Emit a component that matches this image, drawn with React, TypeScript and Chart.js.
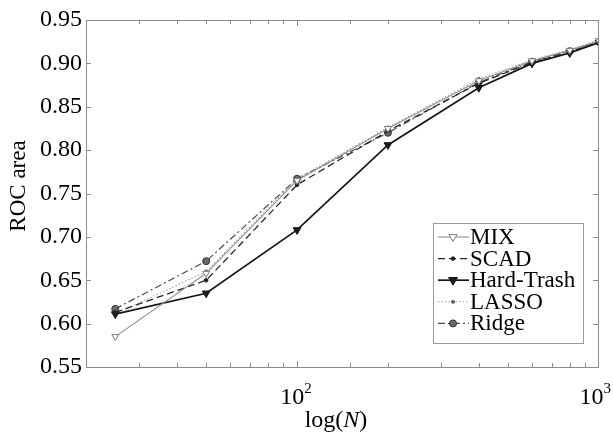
import React, { useEffect, useRef } from 'react';
import { Chart, registerables } from 'chart.js';

Chart.register(...registerables);

const FONT = "'Liberation Serif', 'Times New Roman', Times, serif";

// ---- data ----
const sampleSizes = [25, 50, 100, 200, 400, 600, 800, 1000];
const mixArea = [0.585, 0.658, 0.765, 0.825, 0.88, 0.903, 0.915, 0.926];
const scadArea = [0.613, 0.65, 0.76, 0.822, 0.877, 0.901, 0.913, 0.925];
const hardTrashArea = [0.611, 0.635, 0.708, 0.806, 0.872, 0.9, 0.912, 0.924];
const lassoArea = [0.611, 0.66, 0.767, 0.826, 0.882, 0.904, 0.916, 0.927];
const ridgeArea = [0.617, 0.672, 0.767, 0.82, 0.878, 0.902, 0.914, 0.925];
const seriesNames = ['MIX', 'SCAD', 'Hard-Trash', 'LASSO', 'Ridge'];
const yTickLabels = ['0.55', '0.60', '0.65', '0.70', '0.75', '0.80', '0.85', '0.90', '0.95'];
const xMin = 20;
const xMax = 1000;
const yMin = 0.55;
const yMax = 0.95;
const xTickBase = '10';
const xTickExponents: Record<number, string> = { 100: '2', 1000: '3' };
const yAxisTitle = 'ROC area';
const xAxisTitleParts = ['log(', 'N', ')'];

type Style = {
  color: string;
  width: number;
  dash: number[];
  marker: 'triDown' | 'circle';
  radius: number;
  fill: string;
  stroke: string;
};

const styles: Style[] = [
  { color: '#8f8f8f', width: 1.1, dash: [], marker: 'triDown', radius: 4, fill: '#ffffff', stroke: '#7a7a7a' },
  { color: '#262626', width: 1.3, dash: [7, 4], marker: 'circle', radius: 1.8, fill: '#222222', stroke: '#222222' },
  { color: '#151515', width: 1.7, dash: [], marker: 'triDown', radius: 4.5, fill: '#1a1a1a', stroke: '#1a1a1a' },
  { color: '#a0a0a0', width: 1.1, dash: [1.5, 2], marker: 'circle', radius: 1.6, fill: '#666666', stroke: '#666666' },
  { color: '#4a4a4a', width: 1.2, dash: [7, 3, 2, 3], marker: 'circle', radius: 3.5, fill: '#6a6a6a', stroke: '#303030' },
];

const seriesValues = [mixArea, scadArea, hardTrashArea, lassoArea, ridgeArea];

function drawMarker(ctx: CanvasRenderingContext2D, s: Style, x: number, y: number) {
  ctx.save();
  ctx.setLineDash([]);
  ctx.fillStyle = s.fill;
  ctx.strokeStyle = s.stroke;
  ctx.lineWidth = 1;
  ctx.beginPath();
  if (s.marker === 'circle') {
    ctx.arc(x, y, s.radius, 0, Math.PI * 2);
  } else {
    const r = s.radius;
    ctx.moveTo(x - r, y - r * 0.6);
    ctx.lineTo(x + r, y - r * 0.6);
    ctx.lineTo(x, y + r * 1.1);
    ctx.closePath();
  }
  ctx.fill();
  ctx.stroke();
  ctx.restore();
}

const decorPlugin = {
  id: 'decor',
  afterDraw(chart: any) {
    const { ctx, scales } = chart;
    const xs = scales.x;
    const ys = scales.y;
    const L = Math.round(xs.getPixelForValue(xMin));
    const R = Math.round(xs.getPixelForValue(xMax));
    const T = Math.round(ys.getPixelForValue(yMax));
    const B = Math.round(ys.getPixelForValue(yMin));
    ctx.save();
    // frame
    ctx.strokeStyle = '#8c8c8c';
    ctx.lineWidth = 1;
    ctx.setLineDash([]);
    ctx.strokeRect(L + 0.5, T + 0.5, R - L - 1, B - T);
    // inner ticks
    ctx.beginPath();
    xs.ticks.forEach((t: any) => {
      const px = Math.round(xs.getPixelForValue(t.value)) + 0.5;
      if (px <= L + 1 || px >= R - 1) return;
      const major = xTickExponents[t.value] !== undefined;
      const len = major ? 6 : 4;
      ctx.moveTo(px, B);
      ctx.lineTo(px, B - len);
      ctx.moveTo(px, T);
      ctx.lineTo(px, T + len);
    });
    ys.ticks.forEach((t: any) => {
      const py = Math.round(ys.getPixelForValue(t.value)) + 0.5;
      if (py <= T + 1 || py >= B - 1) return;
      ctx.moveTo(L, py);
      ctx.lineTo(L + 5, py);
      ctx.moveTo(R - 1, py);
      ctx.lineTo(R - 6, py);
    });
    ctx.stroke();

    // x tick labels with superscripts
    ctx.fillStyle = '#000';
    ctx.textBaseline = 'alphabetic';
    Object.keys(xTickExponents).forEach((k) => {
      const v = Number(k);
      const px = xs.getPixelForValue(v);
      ctx.font = `24px ${FONT}`;
      const wBase = ctx.measureText(xTickBase).width;
      ctx.font = `15px ${FONT}`;
      const wExp = ctx.measureText(xTickExponents[v]).width;
      let left = px - 1 - (wBase + wExp) / 2;
      if (left + wBase + wExp > 611) left = 611 - wBase - wExp;
      ctx.font = `24px ${FONT}`;
      ctx.textAlign = 'left';
      ctx.fillText(xTickBase, left, 404);
      ctx.font = `15px ${FONT}`;
      ctx.fillText(xTickExponents[v], left + wBase, 393);
    });

    // x title
    ctx.font = `24px ${FONT}`;
    const w0 = ctx.measureText(xAxisTitleParts[0]).width;
    const w2 = ctx.measureText(xAxisTitleParts[2]).width;
    ctx.font = `italic 24px ${FONT}`;
    const w1 = ctx.measureText(xAxisTitleParts[1]).width;
    const total = w0 + w1 + w2;
    let cx = 336 - total / 2;
    ctx.textAlign = 'left';
    ctx.font = `24px ${FONT}`;
    ctx.fillText(xAxisTitleParts[0], cx, 427);
    cx += w0;
    ctx.font = `italic 24px ${FONT}`;
    ctx.fillText(xAxisTitleParts[1], cx, 427);
    cx += w1;
    ctx.font = `24px ${FONT}`;
    ctx.fillText(xAxisTitleParts[2], cx, 427);

    // y title
    ctx.save();
    ctx.translate(25, 186);
    ctx.rotate(-Math.PI / 2);
    ctx.textAlign = 'center';
    ctx.font = `23px ${FONT}`;
    ctx.fillText(yAxisTitle, 0, 0);
    ctx.restore();

    // legend
    const bx = 433, by = 223, bw = 150, bh = 120;
    ctx.fillStyle = '#ffffff';
    ctx.fillRect(bx, by, bw, bh);
    ctx.strokeStyle = '#9a9a9a';
    ctx.lineWidth = 1;
    ctx.strokeRect(bx + 0.5, by + 0.5, bw, bh);
    seriesNames.forEach((name, i) => {
      const s = styles[i];
      const yy = 237 + i * 21.6;
      ctx.save();
      ctx.strokeStyle = s.color;
      ctx.lineWidth = s.width;
      ctx.setLineDash(s.dash);
      ctx.beginPath();
      ctx.moveTo(438, yy);
      ctx.lineTo(469, yy);
      ctx.stroke();
      ctx.restore();
      drawMarker(ctx, s, 453, yy);
      ctx.fillStyle = '#000';
      ctx.font = `23px ${FONT}`;
      ctx.textAlign = 'left';
      ctx.textBaseline = 'middle';
      ctx.fillText(name, 470, yy + 1);
    });
    ctx.restore();
  },
};

export default function App() {
  const canvasRef = useRef<HTMLCanvasElement | null>(null);

  useEffect(() => {
    if (!canvasRef.current) return;
    const datasets = seriesNames.map((name, i) => {
      const s = styles[i];
      return {
        label: name,
        data: sampleSizes.map((n, j) => ({ x: n, y: seriesValues[i][j] })),
        borderColor: s.color,
        borderWidth: s.width,
        borderDash: s.dash,
        backgroundColor: s.fill,
        pointStyle: s.marker === 'circle' ? 'circle' : 'triangle',
        pointRotation: s.marker === 'circle' ? 0 : 180,
        pointRadius: s.radius,
        pointBackgroundColor: s.fill,
        pointBorderColor: s.stroke,
        pointBorderWidth: 1,
        tension: 0,
        fill: false,
      };
    });
    const chart = new Chart(canvasRef.current, {
      type: 'line',
      data: { datasets: datasets as any },
      plugins: [decorPlugin],
      options: {
        animation: false,
        responsive: false,
        maintainAspectRatio: false,
        layout: { padding: { top: 20, right: 14, left: 0, bottom: 0 } },
        plugins: {
          legend: { display: false },
          tooltip: { enabled: false },
        },
        scales: {
          x: {
            type: 'logarithmic',
            min: xMin,
            max: xMax,
            grid: { display: false, drawTicks: false },
            border: { display: false },
            ticks: { display: false, autoSkip: false },
            afterFit: (s: any) => {
              s.height = 68;
              s.paddingLeft = 0;
              s.paddingRight = 0;
            },
          },
          y: {
            min: yMin,
            max: yMax,
            grid: { display: false, drawTicks: false },
            border: { display: false },
            ticks: {
              stepSize: 0.05,
              padding: 4,
              color: '#000',
              font: { family: FONT, size: 24 },
              callback: (_v: any, idx: number) => yTickLabels[idx] ?? '',
            },
            afterFit: (s: any) => {
              s.width = 86;
              s.paddingTop = 0;
              s.paddingBottom = 0;
            },
          },
        },
      } as any,
    });
    return () => chart.destroy();
  }, []);

  return (
    <div style={{ position: 'absolute', left: 0, top: 0, width: 613, height: 435, background: '#fff' }}>
      <canvas ref={canvasRef} width={613} height={435} style={{ width: 613, height: 435 }} />
    </div>
  );
}
